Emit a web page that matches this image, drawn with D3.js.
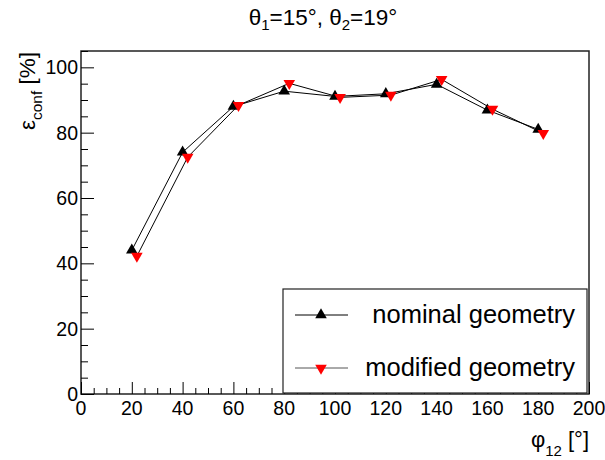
<!DOCTYPE html>
<html><head><meta charset="utf-8">
<script src="https://cdn.jsdelivr.net/npm/d3@7"></script>
<style>body{margin:0;background:#fff}svg{display:block;font-family:"Liberation Sans",Arial,sans-serif}</style>
</head><body><svg id="c" width="605" height="460"></svg>
<script>
const nominalX = [20, 40, 60, 80, 100, 120, 140, 160, 180];
const nominalY = [44.0, 74.0, 88.0, 92.7, 91.1, 91.9, 94.8, 86.9, 81.0];
const modifiedX = [22, 42, 62, 82, 102, 122, 142, 162, 182];
const modifiedY = [42.2, 72.5, 88.4, 95.1, 90.8, 91.5, 96.3, 87.2, 79.8];
const xTicks = [0, 20, 40, 60, 80, 100, 120, 140, 160, 180, 200];
const yTicks = [0, 20, 40, 60, 80, 100];
const seriesNames = ["nominal geometry", "modified geometry"];

const svg = d3.select("#c");
const L = 81, R = 589, T = 51, B = 394;
const x = d3.scaleLinear().domain([0, 200]).range([L, R]);
const y = d3.scaleLinear().domain([0, 105]).range([B, T]);

// frame
svg.append("rect").attr("x", L).attr("y", T).attr("width", R - L).attr("height", B - T)
  .attr("fill", "none").attr("stroke", "#222").attr("stroke-width", 1.5);

// x axis
const xa = svg.append("g").attr("transform", `translate(0,${B})`)
  .call(d3.axisBottom(x).tickValues(d3.range(0, 201, 5)).tickSize(-6).tickFormat(""));
xa.selectAll(".tick line").filter(d => d % 20 === 0).attr("y2", -12);
xa.select(".domain").remove();
svg.append("g").attr("transform", `translate(0,${B})`).selectAll("text").data(xTicks).join("text")
  .attr("x", d => x(d)).attr("y", 21).attr("text-anchor", "middle").attr("font-size", 19.5).text(d => d);

// y axis
const ya = svg.append("g").attr("transform", `translate(${L},0)`)
  .call(d3.axisLeft(y).tickValues(d3.range(0, 106, 5)).tickSize(-7).tickFormat(""));
ya.selectAll(".tick line").filter(d => d % 20 === 0).attr("x2", 13);
ya.select(".domain").remove();
svg.append("g").selectAll("text").data(yTicks).join("text")
  .attr("x", L - 3).attr("y", d => y(d) + 7).attr("text-anchor", "end").attr("font-size", 19.5).text(d => d);
svg.selectAll(".tick line").attr("stroke", "#000");

// title
const t = svg.append("text").attr("x", 323).attr("y", 25).attr("text-anchor", "middle").attr("font-size", 22.5);
t.append("tspan").text("θ");
t.append("tspan").attr("font-size", 15).attr("dy", 5).text("1");
t.append("tspan").attr("dy", -5).text("=15°, θ");
t.append("tspan").attr("font-size", 15).attr("dy", 5).text("2");
t.append("tspan").attr("dy", -5).text("=19°");

// axis titles
const xt = svg.append("text").attr("x", R).attr("y", 447).attr("text-anchor", "end").attr("font-size", 22);
xt.append("tspan").text("φ");
xt.append("tspan").attr("font-size", 15).attr("dy", 9).text("12");
xt.append("tspan").attr("dy", -9).text(" [°]");

const yt = svg.append("text").attr("transform", `translate(35,${T + 1}) rotate(-90)`).attr("text-anchor", "end").attr("font-size", 22.5);
yt.append("tspan").text("ε");
yt.append("tspan").attr("font-size", 15.5).attr("dy", 7).text("conf");
yt.append("tspan").attr("dy", -7).text(" [%]");

// lines
const line = d3.line();
const nomPts = nominalX.map((v, i) => [x(v), y(nominalY[i])]);
const modPts = modifiedX.map((v, i) => [x(v), y(modifiedY[i])]);
svg.append("path").attr("d", line(nomPts)).attr("fill", "none").attr("stroke", "#000").attr("stroke-width", 1);
svg.append("path").attr("d", line(modPts)).attr("fill", "none").attr("stroke", "#000").attr("stroke-width", 1);

const tri = d3.symbol().type(d3.symbolTriangle).size(58);
svg.append("g").selectAll("path").data(nomPts).join("path")
  .attr("transform", d => `translate(${d[0]},${d[1]})`).attr("d", tri).attr("fill", "#000");
svg.append("g").selectAll("path").data(modPts).join("path")
  .attr("transform", d => `translate(${d[0]},${d[1]}) rotate(180)`).attr("d", tri).attr("fill", "#f00");

// legend
svg.append("rect").attr("x", 283).attr("y", 289).attr("width", 304).attr("height", 104)
  .attr("fill", "#fff").attr("stroke", "#222").attr("stroke-width", 1.2);
const rows = [{y: 315, color: "#000", rot: 0, line: "#000"}, {y: 368, color: "#f00", rot: 180, line: "#555"}];
rows.forEach((r, i) => {
  svg.append("line").attr("x1", 295).attr("x2", 348).attr("y1", r.y).attr("y2", r.y).attr("stroke", r.line).attr("stroke-width", 1);
  svg.append("path").attr("transform", `translate(321,${r.y}) rotate(${r.rot})`).attr("d", tri).attr("fill", r.color);
  svg.append("text").attr("x", 575).attr("y", r.y + 8).attr("text-anchor", "end").attr("font-size", 25.5).text(seriesNames[i]);
});
</script></body></html>
